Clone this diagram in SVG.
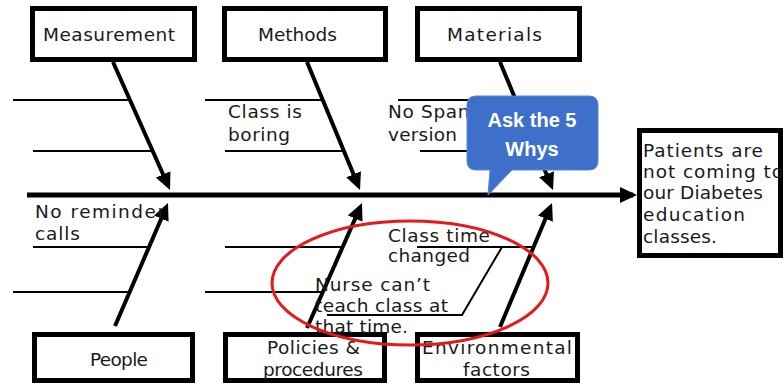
<svg xmlns="http://www.w3.org/2000/svg" width="784" height="386" viewBox="0 0 784 386">
<style>
.box{fill:#fff;stroke:#000;stroke-width:5}
.t{font-family:"DejaVu Sans",sans-serif;font-size:18.5px;fill:#1a1a1a}
.bone{stroke:#000;stroke-width:4;fill:none;marker-end:url(#ah)}
.sub{stroke:#000;stroke-width:2;fill:none}
.call{font-family:"Liberation Sans",Arial,sans-serif;font-size:20px;font-weight:bold;fill:#fff;text-anchor:middle}
</style>
<defs>
<marker id="ah" markerUnits="userSpaceOnUse" markerWidth="18" markerHeight="16" refX="13" refY="8" orient="auto"><path d="M0,0 L17,8 L0,16 z" fill="#000"/></marker>
</defs>
<rect width="784" height="386" fill="#fff"/>
<g id="connectors">
<line class="sub" x1="13" y1="100" x2="130" y2="100"/>
<line class="sub" x1="33" y1="151" x2="151" y2="151"/>
<line class="sub" x1="205" y1="100" x2="323" y2="100"/>
<line class="sub" x1="225" y1="151" x2="344" y2="151"/>
<line class="sub" x1="398" y1="100" x2="516" y2="100"/>
<line class="sub" x1="420" y1="151" x2="537" y2="151"/>
<line class="sub" x1="33" y1="247" x2="149" y2="247"/>
<line class="sub" x1="13" y1="292" x2="130" y2="292"/>
<line class="sub" x1="225" y1="247" x2="343" y2="247"/>
<line class="sub" x1="205" y1="292" x2="323" y2="292"/>
<line class="sub" x1="417" y1="247" x2="534" y2="247"/>
<polyline class="sub" points="502,247 462,315 327,315"/>
<line class="bone" x1="27" y1="195" x2="633" y2="195" style="stroke-width:5"/>
<line class="bone" x1="113" y1="62" x2="168.4" y2="186.3"/>
<line class="bone" x1="307" y1="62" x2="358.5" y2="186.3"/>
<line class="bone" x1="500" y1="62" x2="551.5" y2="186.3"/>
<line class="bone" x1="115" y1="326" x2="166.4" y2="206.7"/>
<line class="bone" x1="307" y1="328" x2="360.4" y2="206.7"/>
<line class="bone" x1="500" y1="327" x2="550.5" y2="206.7"/>
</g>
<g id="measurement"><rect class="box" x="32.5" y="8.5" width="162" height="51"/><text class="t" x="43" y="41" textLength="132">Measurement</text></g>
<g id="methods"><rect class="box" x="224.5" y="8.5" width="161" height="51"/><text class="t" x="258" y="41" textLength="79">Methods</text></g>
<g id="materials"><rect class="box" x="417.5" y="8.5" width="162" height="51"/><text class="t" x="447" y="41" textLength="95">Materials</text></g>
<g id="people"><rect class="box" x="34.5" y="334.5" width="158" height="46"/><text class="t" x="90" y="366" textLength="58">People</text></g>
<g id="policies"><rect class="box" x="225.5" y="334.5" width="159" height="46"/><text class="t" x="267" y="354" textLength="93">Policies &amp;</text><text class="t" x="263" y="376" textLength="100">procedures</text></g>
<g id="environmental"><rect class="box" x="417.5" y="334.5" width="160" height="46"/><text class="t" x="422" y="354" textLength="150">Environmental</text><text class="t" x="463" y="376" textLength="67">factors</text></g>
<g id="effect"><rect class="box" x="639.5" y="130.5" width="141" height="125"/>
<text class="t" x="643" y="157" textLength="120">Patients are</text>
<text class="t" x="643" y="178" textLength="140">not coming to</text>
<text class="t" x="643" y="199" textLength="120">our Diabetes</text>
<text class="t" x="643" y="221" textLength="102">education</text>
<text class="t" x="643" y="243" textLength="74">classes.</text></g>
<g id="cause-class-boring"><text class="t" x="228" y="118" textLength="74">Class is</text><text class="t" x="228" y="141" textLength="62">boring</text></g>
<g id="cause-no-spanish"><text class="t" x="388" y="118" textLength="110">No Spanish</text><text class="t" x="388" y="141" textLength="69">version</text></g>
<g id="cause-no-reminder"><text class="t" x="35" y="218" textLength="130">No reminder</text><text class="t" x="35" y="240" textLength="45">calls</text></g>
<g id="cause-class-time"><text class="t" x="388" y="242" textLength="102">Class time</text><text class="t" x="388" y="262" textLength="82">changed</text></g>
<g id="cause-nurse"><text class="t" x="315" y="291" textLength="115">Nurse can’t</text><text class="t" x="315" y="312" textLength="133">teach class at</text><text class="t" x="315" y="333" textLength="93">that time.</text></g>
<g id="highlight"><ellipse cx="410" cy="283" rx="138" ry="62" fill="none" stroke="#e3191c" stroke-width="3"/></g>
<g id="callout"><path d="M476,96 H589 Q598,96 598,105 V161 Q598,170 589,170 H512 L488,195 L490,170 H476 Q467,170 467,161 V105 Q467,96 476,96 Z" fill="#3e6fc9" stroke="#5a86d6" stroke-width="1"/>
<text class="call" x="532" y="127">Ask the 5</text><text class="call" x="532" y="156">Whys</text></g>
</svg>
